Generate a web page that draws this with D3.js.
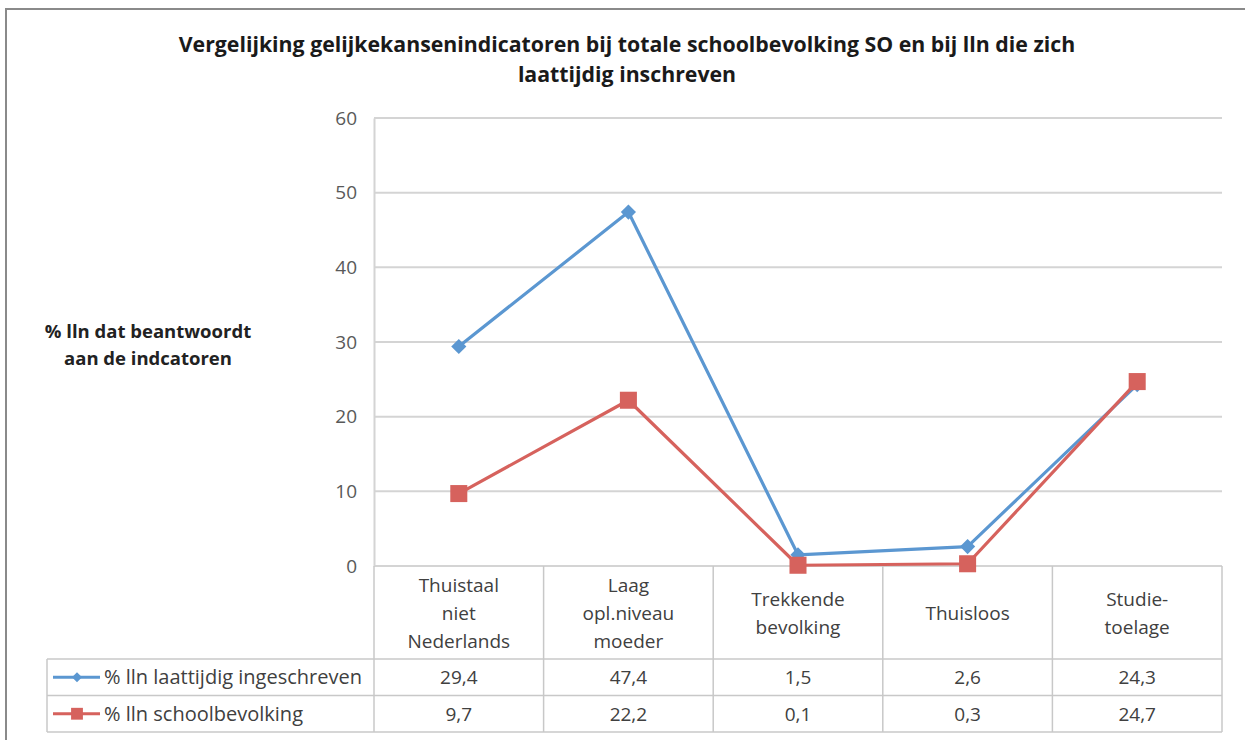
<!DOCTYPE html>
<html>
<head>
<meta charset="utf-8">
<script src="https://cdn.jsdelivr.net/npm/d3@7"></script>
<style>
  body { margin: 0; background: #fff; }
  svg text { font-family: "Open Sans", "Noto Sans", sans-serif; }
</style>
</head>
<body>
<div id="chart"></div>
<script>
// chart data
var categories = ["Thuistaal\nniet\nNederlands", "Laag\nopl.niveau\nmoeder", "Trekkende\nbevolking", "Thuisloos", "Studie-\ntoelage"];
var lateValues = [29.4, 47.4, 1.5, 2.6, 24.3];
var schoolValues = [9.7, 22.2, 0.1, 0.3, 24.7];
var lateLabels = ["29,4", "47,4", "1,5", "2,6", "24,3"];
var schoolLabels = ["9,7", "22,2", "0,1", "0,3", "24,7"];
var seriesNames = ["% lln laattijdig ingeschreven", "% lln schoolbevolking"];
var yTicks = [0, 10, 20, 30, 40, 50, 60];

var svgWidth = 1245;
var svgHeight = 740;

// plot area
var plot = { left: 374, right: 1222, top: 118, bottom: 566 };
var tableTop = 659, rowH = 36.5, legendLeft = 47;

var blue = "#5b97d1";
var red = "#d6625d";
var gridColor = "#d4d4d4";
var textColor = "#404040";
var bodySize = "19px";

var svg = d3.select("#chart")
  .append("svg")
  .attr("width", svgWidth)
  .attr("height", svgHeight);

// outer frame
svg.append("path")
  .attr("d", "M6,740 V9 H1245")
  .attr("fill", "none")
  .attr("stroke", "#8a8a8a")
  .attr("stroke-width", 2);

// title
svg.append("text")
  .attr("x", 627)
  .attr("text-anchor", "middle")
  .style("font-size", "21.3px")
  .style("font-weight", "bold")
  .style("fill", "#1a1a1a")
  .selectAll("tspan")
  .data(["Vergelijking gelijkekansenindicatoren bij totale schoolbevolking SO en bij lln die zich", "laattijdig inschreven"])
  .enter()
  .append("tspan")
  .attr("x", 627)
  .attr("y", (d, i) => 52 + i * 30)
  .text(d => d);

// scales
var xScale = d3.scaleBand()
  .domain(categories)
  .range([plot.left, plot.right]);

var yScale = d3.scaleLinear()
  .domain([0, 60])
  .range([plot.bottom, plot.top]);

var cx = d => xScale(d) + xScale.bandwidth() / 2;

// gridlines
svg.append("g")
  .selectAll("line")
  .data(yTicks)
  .enter()
  .append("line")
  .attr("x1", plot.left)
  .attr("x2", plot.right)
  .attr("y1", d => yScale(d))
  .attr("y2", d => yScale(d))
  .attr("stroke", gridColor)
  .attr("stroke-width", 2);

// left axis
var leftAxis = d3.axisLeft(yScale).tickValues(yTicks).tickSize(0).tickPadding(17);
var yAxisG = svg.append("g")
  .attr("transform", `translate(${plot.left}, 0)`)
  .call(leftAxis);
yAxisG.select(".domain").attr("stroke", gridColor).attr("stroke-width", 2);
yAxisG.selectAll("text")
  .style("font-family", "'Open Sans', 'Noto Sans', sans-serif")
  .style("font-size", "19px")
  .style("fill", "#595959");

// y axis title
svg.append("text")
  .attr("text-anchor", "middle")
  .style("font-size", "18.5px")
  .style("font-weight", "bold")
  .style("fill", "#222")
  .selectAll("tspan")
  .data(["% lln dat beantwoordt", "aan de indcatoren"])
  .enter()
  .append("tspan")
  .attr("x", 148)
  .attr("y", (d, i) => 338 + i * 27)
  .text(d => d);

// data table lines
var tableBottom = tableTop + 2 * rowH;
var tbl = svg.append("g")
  .attr("stroke", "#c8c8c8")
  .attr("stroke-width", 1.5);

// column separators (header + value rows)
tbl.selectAll("line.col")
  .data(categories.concat(["end"]))
  .enter()
  .append("line")
  .attr("class", "col")
  .attr("x1", (d, i) => i < categories.length ? xScale(d) : plot.right)
  .attr("x2", (d, i) => i < categories.length ? xScale(d) : plot.right)
  .attr("y1", plot.bottom)
  .attr("y2", tableBottom);

tbl.selectAll("line.row")
  .data([tableTop, tableTop + rowH, tableBottom])
  .enter()
  .append("line")
  .attr("class", "row")
  .attr("x1", legendLeft)
  .attr("x2", plot.right)
  .attr("y1", d => d)
  .attr("y2", d => d);

tbl.append("line")
  .attr("x1", legendLeft).attr("x2", legendLeft)
  .attr("y1", tableTop).attr("y2", tableBottom);

// category labels
var catText = svg.append("g")
  .selectAll("text")
  .data(categories)
  .enter()
  .append("text")
  .attr("text-anchor", "middle")
  .style("font-size", bodySize)
  .style("fill", textColor);

catText.each(function(d) {
  var lines = d.split("\n");
  var mid = (plot.bottom + tableTop) / 2;
  var start = mid - (lines.length - 1) * 14 + 7;
  d3.select(this).selectAll("tspan")
    .data(lines)
    .enter()
    .append("tspan")
    .attr("x", cx(d))
    .attr("y", (l, i) => start + i * 28)
    .text(l => l);
});

// value rows
[lateLabels, schoolLabels].forEach(function(labels, r) {
  svg.append("g")
    .selectAll("text")
    .data(labels)
    .enter()
    .append("text")
    .attr("x", (d, i) => cx(categories[i]))
    .attr("y", tableTop + r * rowH + rowH / 2 + 7)
    .attr("text-anchor", "middle")
    .style("font-size", bodySize)
    .style("fill", textColor)
    .text(d => d);
});

// series lines
var line = d3.line()
  .x((d, i) => cx(categories[i]))
  .y(d => yScale(d));

svg.append("path")
  .datum(lateValues)
  .attr("d", line)
  .attr("fill", "none")
  .attr("stroke", blue)
  .attr("stroke-width", 3.2)
  .attr("stroke-linejoin", "round");

svg.append("path")
  .datum(schoolValues)
  .attr("d", line)
  .attr("fill", "none")
  .attr("stroke", red)
  .attr("stroke-width", 3.2)
  .attr("stroke-linejoin", "round");

// markers
svg.append("g")
  .selectAll("path")
  .data(lateValues)
  .enter()
  .append("path")
  .attr("d", d3.symbol(d3.symbolSquare, 115))
  .attr("transform", (d, i) => `translate(${cx(categories[i])}, ${yScale(d)}) rotate(45)`)
  .attr("fill", blue);

svg.append("g")
  .selectAll("path")
  .data(schoolValues)
  .enter()
  .append("path")
  .attr("d", d3.symbol(d3.symbolSquare, 290))
  .attr("transform", (d, i) => `translate(${cx(categories[i])}, ${yScale(d)})`)
  .attr("fill", red);

// legend keys in table
var legendRows = [
  { name: seriesNames[0], color: blue, shape: "diamond" },
  { name: seriesNames[1], color: red, shape: "square" }
];

legendRows.forEach(function(d, r) {
  var yMid = tableTop + r * rowH + rowH / 2;
  var g = svg.append("g");
  g.append("line")
    .attr("x1", 53).attr("x2", 100)
    .attr("y1", yMid).attr("y2", yMid)
    .attr("stroke", d.color)
    .attr("stroke-width", 3.2);
  g.append("path")
    .attr("d", d3.symbol(d3.symbolSquare, d.shape === "diamond" ? 50 : 140))
    .attr("transform", `translate(77, ${yMid})` + (d.shape === "diamond" ? " rotate(45)" : ""))
    .attr("fill", d.color);
  g.append("text")
    .attr("x", 104)
    .attr("y", yMid + 7)
    .style("font-size", "20px")
    .style("fill", textColor)
    .text(d.name);
});
</script>
</body>
</html>
